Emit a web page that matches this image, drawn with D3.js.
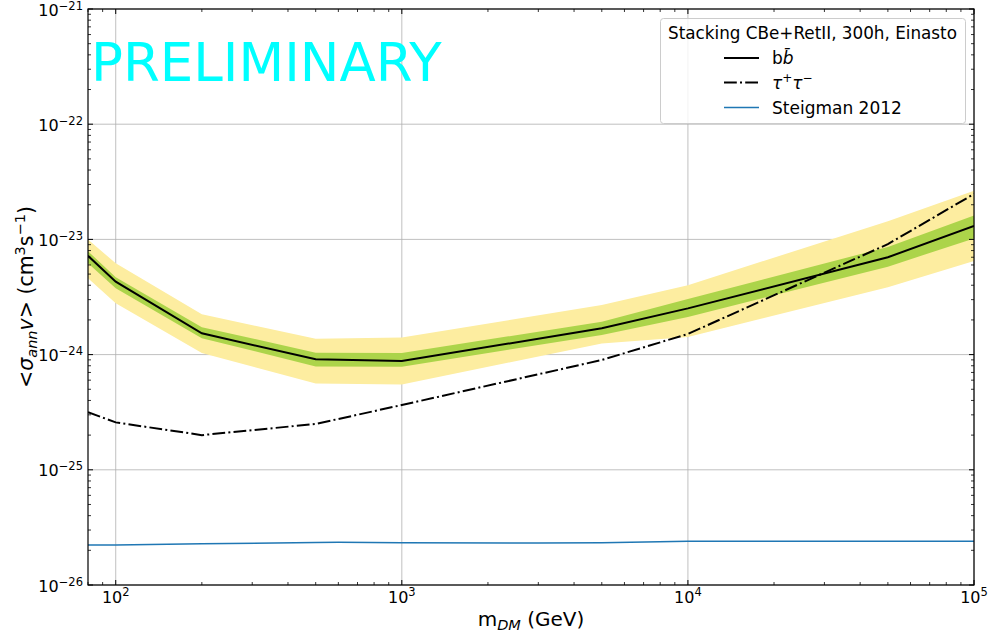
<!DOCTYPE html>
<html><head><meta charset="utf-8">
<script src="https://cdn.jsdelivr.net/npm/d3@7"></script>
<style>body{margin:0;background:#fff;} text{font-family:"DejaVu Sans",sans-serif;}</style>
</head><body><svg id="c" width="989" height="637"></svg>
<script>
const masses = [80, 100, 200, 500, 1000, 5000, 10000, 50000, 100000];
const bbMedian = [7.2e-24, 4.3e-24, 1.53e-24, 9.1e-25, 8.8e-25, 1.69e-24, 2.52e-24, 7.0e-24, 1.31e-23];
const bb1Lo = [6.2e-24, 3.76e-24, 1.39e-24, 7.9e-25, 7.85e-25, 1.48e-24, 2.12e-24, 5.8e-24, 1.02e-23];
const bb1Hi = [7.9e-24, 4.7e-24, 1.73e-24, 1.04e-24, 1.03e-24, 1.93e-24, 3.04e-24, 8.6e-24, 1.61e-23];
const bb2Lo = [4.6e-24, 2.79e-24, 1.03e-24, 5.6e-25, 5.5e-25, 1.25e-24, 1.42e-24, 3.84e-24, 6.5e-24];
const bb2Hi = [1.0e-23, 6.2e-24, 2.24e-24, 1.37e-24, 1.41e-24, 2.69e-24, 4.0e-24, 1.44e-23, 2.65e-23];
const tauMedian = [3.16e-25, 2.58e-25, 2.0e-25, 2.5e-25, 3.65e-25, 8.98e-25, 1.51e-24, 9.1e-24, 2.48e-23];
const steigMass = [80, 100, 200, 500, 600, 1000, 3000, 5000, 10000, 100000];
const steigVal = [2.22e-26, 2.23e-26, 2.28e-26, 2.34e-26, 2.35e-26, 2.33e-26, 2.31e-26, 2.33e-26, 2.40e-26, 2.40e-26];
const xTicks = [100, 1000, 10000, 100000];
const xTickExp = ["2", "3", "4", "5"];
const yTicks = [1e-26, 1e-25, 1e-24, 1e-23, 1e-22, 1e-21];
const yTickExp = ["−26", "−25", "−24", "−23", "−22", "−21"];
const legendTitle = "Stacking CBe+RetII, 300h, Einasto";

const L = 88, R = 974, T = 9, B = 585;
const svg = d3.select("#c");
const x = d3.scaleLog().domain([80, 100000]).range([L, R]);
const y = d3.scaleLog().domain([1e-26, 1e-21]).range([B, T]);

// grid
const g = svg.append("g");
xTicks.forEach(t => g.append("line").attr("x1", x(t)).attr("x2", x(t)).attr("y1", T).attr("y2", B).attr("stroke", "#b0b0b0").attr("stroke-width", 0.8));
yTicks.forEach(t => g.append("line").attr("x1", L).attr("x2", R).attr("y1", y(t)).attr("y2", y(t)).attr("stroke", "#b0b0b0").attr("stroke-width", 0.8));

svg.append("clipPath").attr("id", "pc").append("rect").attr("x", L).attr("y", T).attr("width", R - L).attr("height", B - T);
const pg = svg.append("g").attr("clip-path", "url(#pc)");

const idx = masses.map((m, i) => i);
const area = (lo, hi) => d3.area().x(i => x(masses[i])).y0(i => y(lo[i])).y1(i => y(hi[i]));
pg.append("path").attr("d", area(bb2Lo, bb2Hi)(idx)).attr("fill", "#fdeda0");
pg.append("path").attr("d", area(bb1Lo, bb1Hi)(idx)).attr("fill", "#acd44a");
const line = (xs, ys) => d3.line().x(i => x(xs[i])).y(i => y(ys[i]))(xs.map((d, i) => i));
pg.append("path").attr("d", line(masses, bbMedian)).attr("fill", "none").attr("stroke", "#000").attr("stroke-width", 2);
pg.append("path").attr("d", line(masses, tauMedian)).attr("fill", "none").attr("stroke", "#000").attr("stroke-width", 2).attr("stroke-dasharray", "12.8,3.2,2,3.2");
pg.append("path").attr("d", line(steigMass, steigVal)).attr("fill", "none").attr("stroke", "#1f77b4").attr("stroke-width", 1.5);

// PRELIMINARY
svg.append("text").attr("x", 91).attr("y", 81).attr("font-size", 53).attr("fill", "#00ffff").text("PRELIMINARY");

// axes ticks (inward on all sides)
const ax = svg.append("g").attr("stroke", "#000");
function minorVals(lo, hiExp) {
  const out = [];
  for (let e = lo; e < hiExp; e++) for (let k = 2; k <= 9; k++) out.push(k * Math.pow(10, e));
  return out;
}
const xMinor = minorVals(1, 5).filter(v => v >= 80 && v <= 100000);
const yMinor = minorVals(-26, -21);
xTicks.forEach(t => {
  ax.append("line").attr("x1", x(t)).attr("x2", x(t)).attr("y1", B).attr("y2", B - 5);
  ax.append("line").attr("x1", x(t)).attr("x2", x(t)).attr("y1", T).attr("y2", T + 5);
});
xMinor.forEach(t => {
  ax.append("line").attr("x1", x(t)).attr("x2", x(t)).attr("y1", B).attr("y2", B - 3).attr("stroke-width", 0.8);
  ax.append("line").attr("x1", x(t)).attr("x2", x(t)).attr("y1", T).attr("y2", T + 3).attr("stroke-width", 0.8);
});
yTicks.forEach(t => {
  ax.append("line").attr("x1", L).attr("x2", L + 5).attr("y1", y(t)).attr("y2", y(t));
  ax.append("line").attr("x1", R).attr("x2", R - 5).attr("y1", y(t)).attr("y2", y(t));
});
yMinor.forEach(t => {
  ax.append("line").attr("x1", L).attr("x2", L + 3).attr("y1", y(t)).attr("y2", y(t)).attr("stroke-width", 0.8);
  ax.append("line").attr("x1", R).attr("x2", R - 3).attr("y1", y(t)).attr("y2", y(t)).attr("stroke-width", 0.8);
});
svg.append("rect").attr("x", L).attr("y", T).attr("width", R - L).attr("height", B - T).attr("fill", "none").attr("stroke", "#000").attr("stroke-width", 1.2);

// tick labels
xTicks.forEach((t, i) => {
  const tx = svg.append("text").attr("x", x(t)).attr("y", 603).attr("font-size", 16).attr("text-anchor", "middle").attr("fill", "#000");
  tx.append("tspan").text("10");
  tx.append("tspan").attr("font-size", 11.5).attr("dy", -7).text(xTickExp[i]);
});
yTicks.forEach((t, i) => {
  const tx = svg.append("text").attr("x", 83).attr("y", y(t) + 6.5).attr("font-size", 16).attr("text-anchor", "end").attr("fill", "#000");
  tx.append("tspan").text("10");
  tx.append("tspan").attr("font-size", 11.5).attr("dy", -6).text(yTickExp[i]);
});

// axis labels
const xl = svg.append("text").attr("x", 531).attr("y", 626).attr("font-size", 20).attr("text-anchor", "middle");
xl.append("tspan").text("m");
xl.append("tspan").attr("font-size", 14.5).attr("font-style", "italic").attr("dy", 4).text("DM");
xl.append("tspan").attr("dy", -4).text(" (GeV)");

const yl = svg.append("text").attr("transform", "translate(33,297) rotate(-90)").attr("font-size", 20.5).attr("text-anchor", "middle");
yl.append("tspan").text("<");
yl.append("tspan").attr("font-style", "italic").text("σ");
yl.append("tspan").attr("font-style", "italic").attr("font-size", 14.5).attr("dy", 4).text("ann");
yl.append("tspan").attr("font-style", "italic").attr("dy", -4).text("v");
yl.append("tspan").text("> (cm");
yl.append("tspan").attr("font-size", 14.5).attr("dy", -8).text("3");
yl.append("tspan").attr("dy", 8).text("s");
yl.append("tspan").attr("font-size", 14.5).attr("dy", -8).text("−1");
yl.append("tspan").attr("dy", 8).text(")");

// legend
const lg = svg.append("g");
lg.append("rect").attr("x", 660.5).attr("y", 18.5).attr("width", 305).attr("height", 105).attr("rx", 3).attr("fill", "#fff").attr("fill-opacity", 0.8).attr("stroke", "#cccccc");
lg.append("text").attr("x", 812.5).attr("y", 38.5).attr("font-size", 16.8).attr("text-anchor", "middle").text(legendTitle);
const rows = [58, 82.5, 107.5];
lg.append("line").attr("x1", 724).attr("x2", 759).attr("y1", rows[0]).attr("y2", rows[0]).attr("stroke", "#000").attr("stroke-width", 2);
lg.append("line").attr("x1", 724).attr("x2", 759).attr("y1", rows[1]).attr("y2", rows[1]).attr("stroke", "#000").attr("stroke-width", 2).attr("stroke-dasharray", "12.8,3.2,2,3.2");
lg.append("line").attr("x1", 724).attr("x2", 759).attr("y1", rows[2]).attr("y2", rows[2]).attr("stroke", "#1f77b4").attr("stroke-width", 1.5);
const t1 = lg.append("text").attr("x", 772).attr("y", rows[0] + 6).attr("font-size", 17);
t1.append("tspan").text("b");
t1.append("tspan").attr("font-style", "italic").text("b\u0304");
const t2 = lg.append("text").attr("x", 772).attr("y", rows[1] + 6).attr("font-size", 17);
t2.append("tspan").attr("font-style", "italic").text("τ");
t2.append("tspan").attr("font-size", 12).attr("dy", -7).text("+");
t2.append("tspan").attr("font-style", "italic").attr("dy", 7).text("τ");
t2.append("tspan").attr("font-size", 12).attr("dy", -7).text("−");
lg.append("text").attr("x", 772).attr("y", rows[2] + 6).attr("font-size", 17).text("Steigman 2012");
</script></body></html>
